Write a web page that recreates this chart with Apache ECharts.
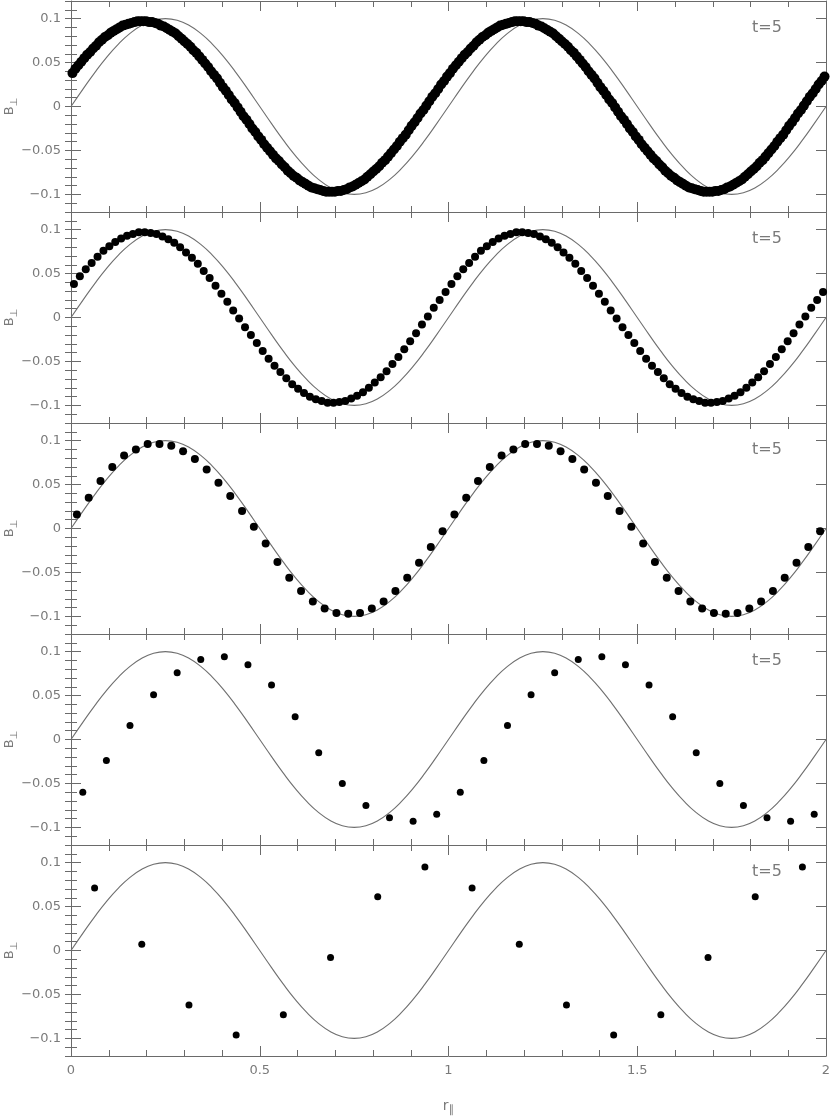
<!DOCTYPE html>
<html>
<head>
<meta charset="utf-8">
<title>B perp, t=5</title>
<script src="https://cdn.jsdelivr.net/npm/echarts@6/dist/echarts.min.js"></script>
<style>
  html, body { margin: 0; padding: 0; background: #fff; }
  #chart { width: 830px; height: 1116px; }
</style>
</head>
<body>
<div id="chart"></div>
<script>
  // exact wave, sampled every 1/32 in r from 0 to 2
  const exactB = [
    0, 0.0195, 0.0383, 0.0556, 0.0707, 0.0831, 0.0924, 0.0981, 0.1, 0.0981, 0.0924, 0.0831, 0.0707, 0.0556, 0.0383, 0.0195,
    0, -0.0195, -0.0383, -0.0556, -0.0707, -0.0831, -0.0924, -0.0981, -0.1, -0.0981, -0.0924, -0.0831, -0.0707, -0.0556, -0.0383, -0.0195,
    0, 0.0195, 0.0383, 0.0556, 0.0707, 0.0831, 0.0924, 0.0981, 0.1, 0.0981, 0.0924, 0.0831, 0.0707, 0.0556, 0.0383, 0.0195,
    0, -0.0195, -0.0383, -0.0556, -0.0707, -0.0831, -0.0924, -0.0981, -0.1, -0.0981, -0.0924, -0.0831, -0.0707, -0.0556, -0.0383, -0.0195,
    0
  ];

  // numerical B at t=5, one value per cell centre (256, 128, 64, 32, 16 cells)
  const dots256 = [
    0.038, 0.043, 0.047, 0.051, 0.055, 0.059, 0.062, 0.066, 0.069, 0.073, 0.076, 0.079, 0.081, 0.084, 0.086, 0.088,
    0.090, 0.092, 0.093, 0.094, 0.095, 0.096, 0.097, 0.097, 0.097, 0.097, 0.096, 0.096, 0.095, 0.094, 0.092, 0.091,
    0.089, 0.087, 0.085, 0.083, 0.080, 0.077, 0.074, 0.071, 0.068, 0.064, 0.061, 0.057, 0.053, 0.049, 0.045, 0.040,
    0.036, 0.032, 0.027, 0.022, 0.018, 0.013, 0.008, 0.004, -0.001, -0.006, -0.011, -0.015, -0.020, -0.025, -0.029, -0.034,
    -0.038, -0.043, -0.047, -0.051, -0.055, -0.059, -0.062, -0.066, -0.069, -0.073, -0.076, -0.079, -0.081, -0.084, -0.086, -0.088,
    -0.090, -0.092, -0.093, -0.094, -0.095, -0.096, -0.097, -0.097, -0.097, -0.097, -0.096, -0.096, -0.095, -0.094, -0.092, -0.091,
    -0.089, -0.087, -0.085, -0.083, -0.080, -0.077, -0.074, -0.071, -0.068, -0.064, -0.061, -0.057, -0.053, -0.049, -0.045, -0.040,
    -0.036, -0.032, -0.027, -0.022, -0.018, -0.013, -0.008, -0.004, 0.001, 0.006, 0.011, 0.015, 0.020, 0.025, 0.029, 0.034,
    0.038, 0.043, 0.047, 0.051, 0.055, 0.059, 0.062, 0.066, 0.069, 0.073, 0.076, 0.079, 0.081, 0.084, 0.086, 0.088,
    0.090, 0.092, 0.093, 0.094, 0.095, 0.096, 0.097, 0.097, 0.097, 0.097, 0.096, 0.096, 0.095, 0.094, 0.092, 0.091,
    0.089, 0.087, 0.085, 0.083, 0.080, 0.077, 0.074, 0.071, 0.068, 0.064, 0.061, 0.057, 0.053, 0.049, 0.045, 0.040,
    0.036, 0.032, 0.027, 0.022, 0.018, 0.013, 0.008, 0.004, -0.001, -0.006, -0.011, -0.015, -0.020, -0.025, -0.029, -0.034,
    -0.038, -0.043, -0.047, -0.051, -0.055, -0.059, -0.062, -0.066, -0.069, -0.073, -0.076, -0.079, -0.081, -0.084, -0.086, -0.088,
    -0.090, -0.092, -0.093, -0.094, -0.095, -0.096, -0.097, -0.097, -0.097, -0.097, -0.096, -0.096, -0.095, -0.094, -0.092, -0.091,
    -0.089, -0.087, -0.085, -0.083, -0.080, -0.077, -0.074, -0.071, -0.068, -0.064, -0.061, -0.057, -0.053, -0.049, -0.045, -0.040,
    -0.036, -0.032, -0.027, -0.022, -0.018, -0.013, -0.008, -0.004, 0.001, 0.006, 0.011, 0.015, 0.020, 0.025, 0.029, 0.034
  ];
  const dots128 = [
    0.038, 0.047, 0.055, 0.062, 0.069, 0.076, 0.081, 0.086, 0.090, 0.093, 0.095, 0.097, 0.097, 0.096, 0.095, 0.092,
    0.089, 0.085, 0.080, 0.074, 0.068, 0.061, 0.053, 0.045, 0.036, 0.027, 0.018, 0.008, -0.001, -0.011, -0.020, -0.029,
    -0.038, -0.047, -0.055, -0.062, -0.069, -0.076, -0.081, -0.086, -0.090, -0.093, -0.095, -0.097, -0.097, -0.096, -0.095, -0.092,
    -0.089, -0.085, -0.080, -0.074, -0.068, -0.061, -0.053, -0.045, -0.036, -0.027, -0.018, -0.008, 0.001, 0.011, 0.020, 0.029,
    0.038, 0.047, 0.055, 0.062, 0.069, 0.076, 0.081, 0.086, 0.090, 0.093, 0.095, 0.097, 0.097, 0.096, 0.095, 0.092,
    0.089, 0.085, 0.080, 0.074, 0.068, 0.061, 0.053, 0.045, 0.036, 0.027, 0.018, 0.008, -0.001, -0.011, -0.020, -0.029,
    -0.038, -0.047, -0.055, -0.062, -0.069, -0.076, -0.081, -0.086, -0.090, -0.093, -0.095, -0.097, -0.097, -0.096, -0.095, -0.092,
    -0.089, -0.085, -0.080, -0.074, -0.068, -0.061, -0.053, -0.045, -0.036, -0.027, -0.018, -0.008, 0.001, 0.011, 0.020, 0.029
  ];
  const dots64 = [
    0.016, 0.035, 0.054, 0.070, 0.083, 0.090, 0.096, 0.096, 0.094, 0.088, 0.079, 0.067, 0.052, 0.037, 0.020, 0.002,
    -0.017, -0.038, -0.056, -0.071, -0.083, -0.091, -0.096, -0.097, -0.096, -0.091, -0.083, -0.071, -0.056, -0.039, -0.021, -0.003,
    0.016, 0.035, 0.054, 0.070, 0.083, 0.090, 0.096, 0.096, 0.094, 0.088, 0.079, 0.067, 0.052, 0.037, 0.020, 0.002,
    -0.017, -0.038, -0.056, -0.071, -0.083, -0.091, -0.096, -0.097, -0.096, -0.091, -0.083, -0.071, -0.056, -0.039, -0.021, -0.003
  ];
  const dots32 = [
    -0.060, -0.024, 0.016, 0.051, 0.076, 0.091, 0.094, 0.085, 0.062, 0.026, -0.015, -0.050, -0.075, -0.089, -0.093, -0.085,
    -0.060, -0.024, 0.016, 0.051, 0.076, 0.091, 0.094, 0.085, 0.062, 0.026, -0.015, -0.050, -0.075, -0.089, -0.093, -0.085
  ];
  const dots16 = [
    0.071, 0.007, -0.062, -0.096, -0.073, -0.008, 0.061, 0.095,
    0.071, 0.007, -0.062, -0.096, -0.073, -0.008, 0.061, 0.095
  ];

  const xTickValues = [0, 0.5, 1, 1.5, 2];
  const xTickLabels = ['0', '0.5', '1', '1.5', '2'];
  const yTickValues = [-0.1, -0.05, 0, 0.05, 0.1];
  const yTickLabels = ['\u22120.1', '\u22120.05', '0', '0.05', '0.1'];
  const panelLabel = 't=5';

  const panels = [dots256, dots128, dots64, dots32, dots16];
  const dotSize = [10, 8, 8, 7, 7];
  const panelTop = [1, 212, 423, 634, 845];
  const panelHeight = 211;

  const gray = '#6a6a6a';
  const textGray = '#7a7a7a';
  const font = '"DejaVu Sans", sans-serif';

  function tickText(values, labels, v) {
    for (let i = 0; i < values.length; i++) {
      if (Math.abs(values[i] - v) < 1e-9) return labels[i];
    }
    return '';
  }

  let grid = [], xAxis = [], yAxis = [], series = [], graphic = [];

  panels.forEach((dots, k) => {
    let last = k === panels.length - 1;
    grid.push({
      left: 71, right: 4, top: panelTop[k], height: panelHeight,
      containLabel: false, outerBoundsMode: 'none'
    });

    ['bottom', 'top'].forEach(pos => {
      let labelled = last && pos === 'bottom';
      xAxis.push({
        gridIndex: k, type: 'value', position: pos, min: 0, max: 2, interval: 0.5,
        axisLine: { show: true, onZero: false, lineStyle: { color: gray, width: 1 } },
        axisTick: { show: true, inside: true, length: 10, lineStyle: { color: gray } },
        minorTick: { show: true, splitNumber: 5, length: 6, lineStyle: { color: gray } },
        splitLine: { show: false },
        axisLabel: {
          show: labelled, margin: 8, color: textGray, fontFamily: font, fontSize: 13,
          formatter: v => tickText(xTickValues, xTickLabels, v)
        },
        name: labelled ? '{r|r}{s|\u2225}' : '',
        nameLocation: 'middle', nameGap: 40, nameMoveOverlap: false,
        nameTextStyle: {
          rich: {
            r: { fontFamily: font, fontSize: 14, color: textGray },
            s: { fontFamily: font, fontSize: 11, color: textGray, padding: [9, 0, 0, 0] }
          }
        }
      });
    });

    ['left', 'right'].forEach(pos => {
      // major ticks + labels
      yAxis.push({
        gridIndex: k, type: 'value', position: pos, min: -0.12, max: 0.12, splitNumber: 5,
        axisLine: { show: true, onZero: false, lineStyle: { color: gray, width: 1 } },
        axisTick: { show: true, inside: true, length: 10, lineStyle: { color: gray } },
        splitLine: { show: false },
        axisLabel: {
          show: pos === 'left', margin: 10, color: textGray, fontFamily: font, fontSize: 13,
          showMinLabel: false, showMaxLabel: false,
          formatter: v => tickText(yTickValues, yTickLabels, v)
        },
        name: pos === 'left' ? '{b|B}{s|\u22a5}' : '',
        nameLocation: 'middle', nameRotate: 90, nameGap: 52, nameMoveOverlap: false,
        nameTextStyle: {
          rich: {
            b: { fontFamily: font, fontSize: 13, color: textGray },
            s: { fontFamily: font, fontSize: 10, color: textGray, padding: [8, 0, 0, 0] }
          }
        }
      });
      // minor ticks every 0.01
      yAxis.push({
        gridIndex: k, type: 'value', position: pos, min: -0.12, max: 0.12, interval: 0.01,
        axisLine: { show: false },
        axisTick: { show: true, inside: true, length: 6, lineStyle: { color: gray } },
        splitLine: { show: false },
        axisLabel: { show: false }
      });
    });

    series.push({
      type: 'line', xAxisIndex: 2 * k, yAxisIndex: 4 * k,
      data: exactB.map((v, i) => [i * 2 / (exactB.length - 1), v]),
      smooth: true, showSymbol: false, silent: true,
      lineStyle: { color: '#6f6f6f', width: 1.1 }, z: 2
    });
    series.push({
      type: 'scatter', xAxisIndex: 2 * k, yAxisIndex: 4 * k,
      data: dots.map((v, i) => [(i + 0.5) * 2 / dots.length, v]),
      symbol: 'circle', symbolSize: dotSize[k], silent: true,
      itemStyle: { color: '#000', opacity: 1 }, z: 3
    });

    graphic.push({
      type: 'text', left: 752, top: panelTop[k] + 19,
      style: { text: panelLabel, fill: textGray, font: '16px "DejaVu Sans", sans-serif' }
    });
  });

  let chart = echarts.init(document.getElementById('chart'));
  chart.setOption({
    animation: false,
    backgroundColor: '#fff',
    grid: grid,
    xAxis: xAxis,
    yAxis: yAxis,
    series: series,
    graphic: graphic
  });
</script>
</body>
</html>
